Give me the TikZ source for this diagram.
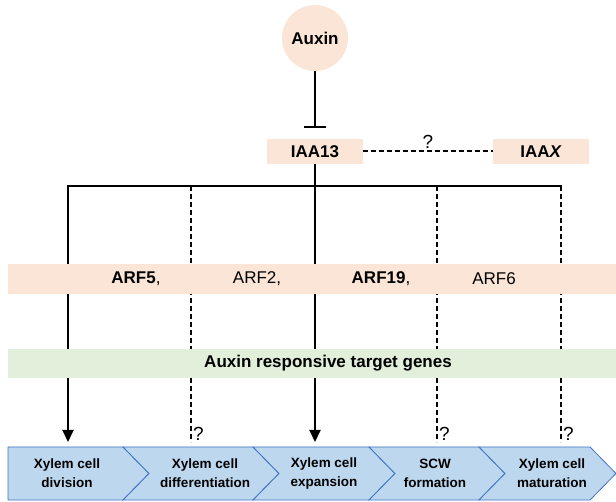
\documentclass[tikz,border=0pt]{standalone}
\usepackage{fontspec}
\setmainfont{Liberation Sans}
\usetikzlibrary{arrows.meta,positioning}
\definecolor{peach}{HTML}{FBE5D6}
\definecolor{leaf}{HTML}{E2EFDA}
\definecolor{sky}{HTML}{BDD7EE}
\definecolor{steel}{HTML}{4472C4}
\newcommand\lblfont{\fontsize{17}{20}\selectfont}
\newcommand\askfont{\fontsize{19}{22}\selectfont}
\newcommand\stagefont{\fontsize{13.5}{19}\selectfont}
\tikzstyle{hormone}=[circle,fill=peach,minimum size=66pt,inner sep=0pt,font=\lblfont\bfseries]
\tikzstyle{repressor}=[rectangle,fill=peach,minimum width=96pt,minimum height=25pt,inner sep=0pt,font=\lblfont\bfseries]
\tikzstyle{band}=[rectangle,minimum width=608pt,inner sep=0pt]
\tikzstyle{link}=[draw=black,line width=2pt]
\tikzstyle{maybe}=[link,dash pattern=on 5pt off 3pt]
\tikzstyle{chevron}=[fill=sky,draw=steel,line width=0.8pt,line join=miter]
\tikzstyle{stage}=[align=center,font=\stagefont\bfseries]
\tikzstyle{tip}=[-{Triangle[width=11pt,length=12pt]}]

\begin{document}
\begin{tikzpicture}[x=1pt,y=-1pt]
  \useasboundingbox (0,0) rectangle (616,502);

  % auxin and the Aux/IAA repressors
  \node[hormone] (auxin) at (315,38) {Auxin};
  \node[repressor] (iaa13) at (315,151.5) {IAA13};
  \node[repressor] (iaax) at (541,151.5) {IAA\textit{X}};
  \draw[link,-{Bar[width=22pt]},shorten >=11pt] (auxin) -- (iaa13);
  \draw[maybe] (iaa13) -- node[above=-1pt,font=\askfont] (qiaa) {?} (iaax);

  % branching bar
  \foreach \n/\x in {1/68, 2/191, 3/315, 4/437, 5/561} {
    \coordinate (t\n) at (\x,186);
    \coordinate (b\n) at (\x,442);
  }
  \draw[link,line cap=rect] (t1) -- (t5);
  \draw[link,tip] (t1) -- (b1);
  \draw[link,tip] (iaa13) -- (b3);
  \foreach \n in {2,4,5}
    \draw[maybe] (t\n) -- node[pos=0.97,anchor=west,inner sep=1pt,font=\askfont] (q\n) {?} (b\n);

  % ARF and target gene bands
  \node[band,fill=peach,minimum height=30pt] (arf) at (312,279) {};
  \foreach \x/\name/\txt in {136/arf5/{\textbf{ARF5},}, 257/arf2/{ARF2,},
                             381/arf19/{\textbf{ARF19},}, 494/arf6/{ARF6}}
    \node[font=\lblfont] (\name) at (\x,279) {\txt};
  \node[band,fill=leaf,minimum height=29pt] (genes) at (312,363.5) {};
  \node[font=\lblfont\bfseries] (genestxt) at (328,363.5) {Auxin responsive target genes};

  % developmental stages
  \draw[chevron] (8,447) -- (123,447) -- (149,473.5) -- (123,500) -- (8,500) -- cycle;
  \foreach \a/\b in {123/253, 253/369, 369/479, 479/590}
    \draw[chevron] (\a,447) -- (\b,447) -- (\b+26,473.5) -- (\b,500) -- (\a,500)
      -- (\a+26,473.5) -- cycle;
  \foreach \x/\name/\txt in {67/div/{Xylem cell\\division},
                             205/diff/{Xylem cell\\differentiation},
                             324/exp/{Xylem cell\\expansion},
                             435/scw/{SCW\\formation},
                             552/mat/{Xylem cell\\maturation}}
    \node[stage] (\name) at (\x,473.5) {\txt};
\end{tikzpicture}
\end{document}
